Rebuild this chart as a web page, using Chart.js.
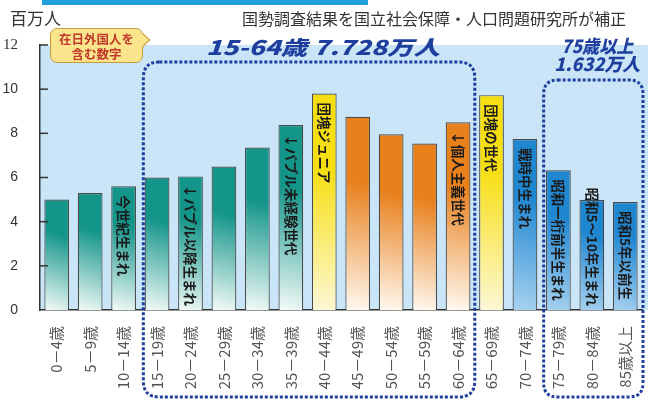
<!DOCTYPE html>
<html lang="ja">
<head>
  <meta charset="UTF-8" />
  <title>年齢別人口</title>
  <style>
    body { margin: 0; background: #fff; font-family: "Noto Sans CJK JP", sans-serif; }
    .wrap { position: relative; width: 658px; height: 401px; overflow: hidden; }
    .wrap canvas { position: absolute; left: 0; top: 0; }
    .topbar { position: absolute; left: 42px; top: 0; width: 326px; height: 5px; background: #22a0dc; }
    .unit { position: absolute; left: 10px; top: 7px; font-size: 17px; line-height: 22px; color: #333; }
    .source { position: absolute; left: 242px; top: 7px; font-size: 16px; line-height: 22px; color: #333; white-space: nowrap; }
    .note {
      position: absolute; left: 50px; top: 28px; width: 93px; height: 35px;
      background: #fbe58c; border: 1px solid #c49a3a; border-radius: 7px;
      color: #c0392b; font-size: 12.5px; font-weight: bold; line-height: 15px;
      text-align: center; padding-top: 2px; box-sizing: border-box; z-index: 2;
    }
    .note::after {
      content: ''; position: absolute; right: -6px; top: 6px; width: 9px; height: 9px;
      background: #fbe58c; border-top: 1px solid #c49a3a; border-right: 1px solid #c49a3a;
      transform: rotate(45deg);
    }
  </style>
</head>
<body>
  <div class="wrap">
    <canvas id="pop-chart" width="658" height="401"></canvas>
    <div class="topbar"></div>
    <div class="unit">百万人</div>
    <div class="source">国勢調査結果を国立社会保障・人口問題研究所が補正</div>
    <div class="note">在日外国人を<br>含む数字</div>
  </div>

  <script src="https://cdn.jsdelivr.net/npm/chart.js"></script>
  <script>
    // 年齢階級（ラベル）
    const ageGroups = ['0－4歳', '5－9歳', '10－14歳', '15－19歳', '20－24歳', '25－29歳',
      '30－34歳', '35－39歳', '40－44歳', '45－49歳', '50－54歳', '55－59歳',
      '60－64歳', '65－69歳', '70－74歳', '75－79歳', '80－84歳', '85歳以上'];
    // 人口（百万人）
    const population = [5.0, 5.3, 5.6, 6.0, 6.05, 6.5, 7.36, 8.38, 9.8, 8.75, 7.96, 7.54, 8.5, 9.73, 7.74, 6.33, 4.98, 4.89];
    // 棒の中の世代メモ
    const generationNotes = ['', '', '今世紀生まれ', '', '↓バブル以降生まれ', '', '', '↓バブル未経験世代',
      '団塊ジュニア', '', '', '', '↓個人主義世代', '団塊の世代', '戦時中生まれ', '昭和一桁前半生まれ',
      '昭和5～10年生まれ', '昭和5年以前生'];
    const yTicks = [0, 2, 4, 6, 8, 10, 12];
    // 枠で囲む区間（インデックス）と見出し
    const workingAge = { from: 3, to: 12, title: ['15-64歳 7.728万人'] };
    const elderly = { from: 15, to: 17, title: ['75歳以上', '1.632万人'] };

    const toneOf = ['teal', 'teal', 'teal', 'teal', 'teal', 'teal', 'teal', 'teal', 'yellow',
      'orange', 'orange', 'orange', 'orange', 'yellow', 'blue', 'blue', 'blue', 'blue'];
    const tones = {
      teal: ['#14958a', '#f4fbf8'],
      orange: ['#e8801c', '#fffaf2'],
      yellow: ['#f6de10', '#fdf8d8'],
      blue: ['#1f86d0', '#a8d2f0']
    };
    const NAVY = '#1f3f9f';
    const JP = '"Noto Sans CJK JP", sans-serif';

    function barFill(c) {
      const i = c.dataIndex;
      if (i === undefined) return tones.teal[0];
      const [c0, c1] = tones[toneOf[i]];
      const { chartArea, scales } = c.chart;
      if (!chartArea) return c0;
      const x = scales.x.getPixelForValue(i);
      const top = scales.y.getPixelForValue(population[i]);
      const bottom = scales.y.getPixelForValue(0);
      const g = c.chart.ctx.createLinearGradient(x + 13, top + (bottom - top) * 0.35, x - 13, bottom);
      g.addColorStop(0, c0);
      g.addColorStop(1, c1);
      return g;
    }

    const panelPlugin = {
      id: 'panel',
      beforeDraw(chart) {
        const { ctx, chartArea } = chart;
        ctx.save();
        ctx.fillStyle = '#c9e5f7';
        ctx.fillRect(chartArea.left, chartArea.top, chartArea.right - chartArea.left + 6, chartArea.bottom - chartArea.top);
        ctx.restore();
      }
    };

    const marksPlugin = {
      id: 'marks',
      afterDatasetsDraw(chart) {
        const { ctx, scales } = chart;
        const x0 = scales.y.right;
        ctx.save();
        ctx.strokeStyle = '#333';
        ctx.lineWidth = 1.5;
        yTicks.forEach(v => {
          if (v === 0) return;
          const y = scales.y.getPixelForValue(v);
          ctx.beginPath();
          ctx.moveTo(x0, y);
          ctx.lineTo(x0 + 8, y);
          ctx.stroke();
        });

        // 棒の中の縦書きメモ
        const meta = chart.getDatasetMeta(0);
        ctx.fillStyle = '#1a1a1a';
        ctx.font = 'bold 13.5px ' + JP;
        ctx.textAlign = 'left';
        ctx.textBaseline = 'middle';
        meta.data.forEach((bar, i) => {
          const text = generationNotes[i];
          if (!text) return;
          const len = ctx.measureText(text).width;
          const start = Math.min(bar.y + 9, bar.base - 4 - len);
          ctx.save();
          ctx.translate(bar.x, start);
          ctx.rotate(Math.PI / 2);
          ctx.fillText(text, 0, 0);
          ctx.restore();
        });
        ctx.restore();
      }
    };

    function dottedBox(ctx, l, t, r, b, rad) {
      ctx.beginPath();
      ctx.moveTo(l + rad, t);
      ctx.lineTo(r - rad, t);
      ctx.quadraticCurveTo(r, t, r, t + rad);
      ctx.lineTo(r, b - rad);
      ctx.quadraticCurveTo(r, b, r - rad, b);
      ctx.lineTo(l + rad, b);
      ctx.quadraticCurveTo(l, b, l, b - rad);
      ctx.lineTo(l, t + rad);
      ctx.quadraticCurveTo(l, t, l + rad, t);
      ctx.stroke();
    }

    function drawTitle(ctx, text, cx, cy, size, width) {
      ctx.save();
      ctx.font = 'italic 900 ' + size + 'px ' + JP;
      const w = ctx.measureText(text).width;
      ctx.translate(cx, cy);
      ctx.scale(width / w, 1);
      ctx.textAlign = 'center';
      ctx.textBaseline = 'middle';
      ctx.fillText(text, 0, 0);
      ctx.restore();
    }

    const framesPlugin = {
      id: 'frames',
      afterDraw(chart) {
        const { ctx, scales } = chart;
        const step = scales.x.getPixelForValue(1) - scales.x.getPixelForValue(0);
        ctx.save();
        ctx.strokeStyle = NAVY;
        ctx.fillStyle = NAVY;
        ctx.lineWidth = 3;
        ctx.setLineDash([3, 2]);

        const l1 = scales.x.getPixelForValue(workingAge.from) - step / 2 + 3;
        const r1 = scales.x.getPixelForValue(workingAge.to) + step / 2;
        dottedBox(ctx, l1, 62, r1, 397, 16);
        const l2 = scales.x.getPixelForValue(elderly.from) - step / 2 + 2;
        const r2 = scales.x.getPixelForValue(elderly.to) + step / 2 + 1;
        dottedBox(ctx, l2, 80, r2, 397, 14);

        drawTitle(ctx, workingAge.title[0], (l1 + r1) / 2 + 14, 47, 20, 234);
        drawTitle(ctx, elderly.title[0], (l2 + r2) / 2 + 4, 46, 18, 72);
        drawTitle(ctx, elderly.title[1], (l2 + r2) / 2 + 4, 64, 18, 86);
        ctx.restore();
      }
    };

    new Chart(document.getElementById('pop-chart'), {
      type: 'bar',
      data: {
        labels: ageGroups,
        datasets: [{
          data: population,
          backgroundColor: barFill,
          borderColor: '#4a4a4a',
          borderWidth: 1.2,
          barPercentage: 0.74,
          categoryPercentage: 1
        }]
      },
      options: {
        responsive: false,
        animation: false,
        layout: { padding: { top: 45, right: 16, left: 0, bottom: 0 } },
        plugins: { legend: { display: false }, tooltip: { enabled: false } },
        scales: {
          x: {
            grid: { display: false },
            border: { color: '#333', width: 1.5 },
            ticks: {
              autoSkip: false, minRotation: 90, maxRotation: 90, padding: 8,
              color: '#555', font: { family: JP, size: 15 }
            },
            afterFit(scale) { scale.height = 91; }
          },
          y: {
            min: 0, max: 12,
            grid: { display: false },
            border: { color: '#333', width: 1.5 },
            ticks: {
              stepSize: 2, padding: 14, color: '#333',
              font: c => (c.tick && c.tick.value === 12)
                ? { family: '"Liberation Serif", serif', size: 15 }
                : { family: '"Liberation Sans", sans-serif', size: 14 }
            },
            afterFit(scale) { scale.width = 40; }
          }
        }
      },
      plugins: [panelPlugin, marksPlugin, framesPlugin]
    });
  </script>
</body>
</html>
